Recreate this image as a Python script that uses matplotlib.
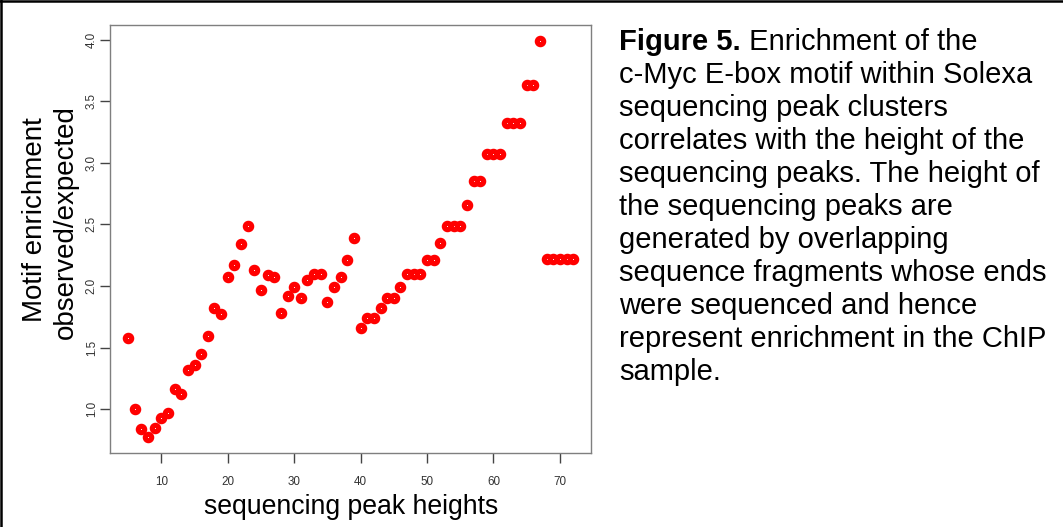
import matplotlib
matplotlib.use("Agg")
import matplotlib.pyplot as plt
from matplotlib.lines import Line2D

plt.rcParams['font.family'] = ['Liberation Sans', 'DejaVu Sans']

# data
peak_heights = [5, 6, 7, 8, 9, 10, 11, 12, 13, 14, 15, 16, 17, 18, 19, 20,
                21, 22, 23, 24, 25, 26, 27, 28, 29, 30, 31, 32, 33, 34, 35, 36,
                37, 38, 39, 40, 41, 42, 43, 44, 45, 46, 47, 48, 49, 50, 51, 52,
                53, 54, 55, 56, 57, 58, 59, 60, 61, 62, 63, 64, 65, 66, 67, 68,
                69, 70, 71, 72]
enrichment = [1.58, 1.00, 0.84, 0.77, 0.85, 0.93, 0.97, 1.16, 1.12, 1.32,
              1.36, 1.45, 1.59, 1.82, 1.77, 2.07, 2.17, 2.34, 2.49, 2.13,
              1.97, 2.09, 2.07, 1.78, 1.92, 1.99, 1.90, 2.05, 2.10, 2.10,
              1.87, 1.99, 2.07, 2.21, 2.39, 1.66, 1.74, 1.74, 1.82, 1.90,
              1.90, 1.99, 2.10, 2.10, 2.10, 2.21, 2.21, 2.35, 2.49, 2.49,
              2.49, 2.66, 2.85, 2.85, 3.07, 3.07, 3.07, 3.32, 3.32, 3.32,
              3.63, 3.63, 3.99, 2.22, 2.22, 2.22, 2.22, 2.22]
x_ticks = [10, 20, 30, 40, 50, 60, 70]
y_ticks = [1.0, 1.5, 2.0, 2.5, 3.0, 3.5, 4.0]

caption_head = "Figure 5."
caption_first = " Enrichment of the"
caption_lines = [
    "c-Myc E-box motif within Solexa",
    "sequencing peak clusters",
    "correlates with the height of the",
    "sequencing peaks. The height of",
    "the sequencing peaks are",
    "generated by overlapping",
    "sequence fragments whose ends",
    "were sequenced and hence",
    "represent enrichment in the ChIP",
    "sample.",
]

W, H = 1063, 527
fig = plt.figure(figsize=(W / 100, H / 100), dpi=100)
fig.patch.set_facecolor('white')

# plot box
ax = fig.add_axes([110.3 / W, 1 - 453.3 / H, (591 - 110.3) / W, (453.3 - 25) / H])
ax.plot(peak_heights, enrichment, linestyle='none', marker='o',
        markersize=4.6, markeredgewidth=3.7, markeredgecolor='red',
        markerfacecolor='white')
ax.set_xlim(2.32, 74.68)
ax.set_ylim(0.641, 4.119)
ax.set_xticks(x_ticks)
ax.set_yticks(y_ticks)
ax.set_xticklabels([str(t) for t in x_ticks])
ax.set_yticklabels(["%.1f" % t for t in y_ticks])
for sp in ax.spines.values():
    sp.set_color('#7f7f7f')
    sp.set_linewidth(1.0)
ax.tick_params(axis='both', direction='out', length=7, width=1.0,
               color='#444444', labelcolor='#333333', labelsize=8.4)
ax.tick_params(axis='x', pad=9.5)
ax.tick_params(axis='y', pad=2.0, labelrotation=90)
for lab in ax.get_yticklabels():
    lab.set_va('center')

# axis titles
fig.text(351 / W, 13 / H, "sequencing peak heights", fontsize=19.2,
         ha='center', va='baseline')
fig.text(42.5 / W, 1 - 220 / H, "Motif enrichment", fontsize=20,
         rotation=90, rotation_mode='anchor', ha='center', va='baseline')
fig.text(72.5 / W, 1 - 222 / H, "observed/expected", fontsize=20,
         rotation=90, rotation_mode='anchor', ha='center', va='baseline')

# caption
cap_x = 619 / W
base0 = 50
step = 33
head = fig.text(cap_x, 1 - base0 / H, caption_head, fontsize=21,
                fontweight='bold', ha='left', va='baseline')
fig.canvas.draw()
bb = head.get_window_extent()
fig.text(bb.x1 / W, 1 - base0 / H, caption_first, fontsize=21,
         ha='left', va='baseline')
for i, line in enumerate(caption_lines):
    fig.text(cap_x, 1 - (base0 + (i + 1) * step) / H, line, fontsize=21,
             ha='left', va='baseline')

# outer frame (left and top edges)
fig.add_artist(Line2D([1 / W, 1 / W], [0, 1], color='black', linewidth=1.8))
fig.add_artist(Line2D([0, 1], [1 - 1 / H, 1 - 1 / H], color='black', linewidth=1.8))

fig.savefig('out.png', dpi=100)
plt.close(fig)
